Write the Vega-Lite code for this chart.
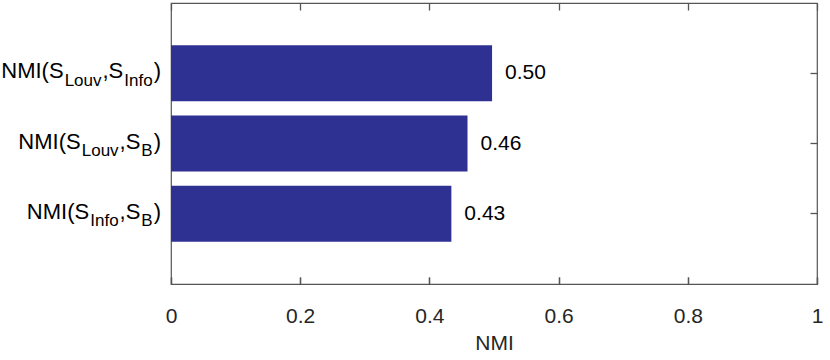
{
  "$schema": "https://vega.github.io/schema/vega-lite/v6.json",
  "width": 646,
  "height": 281,
  "autosize": {"type": "none"},
  "padding": {"left": 171, "top": 3, "right": 13, "bottom": 76},
  "background": "white",
  "config": {
    "font": "Liberation Sans",
    "view": {"stroke": "#555555", "strokeWidth": 1.2},
    "axis": {"labelColor": "#262626", "labelFont": "Liberation Sans", "titleFont": "Liberation Sans", "titleColor": "#262626", "titleFontWeight": "normal"}
  },
  "data": {
    "values": [
      {"pair": "Louv-Info", "value": 0.497, "pre": "NMI(S", "s1": "Louv", "mid": ",S", "s2": "Info", "post": ")"},
      {"pair": "Louv-B", "value": 0.459, "pre": "NMI(S", "s1": "Louv", "mid": ",S", "s2": "B", "post": ")"},
      {"pair": "Info-B", "value": 0.434, "pre": "NMI(S", "s1": "Info", "mid": ",S", "s2": "B", "post": ")"}
    ]
  },
  "layer": [
    {
      "mark": {"type": "bar", "color": "#2E3192"},
      "encoding": {
        "y": {"field": "pair", "type": "nominal", "sort": null, "title": null, "scale": {"paddingInner": 0.2, "paddingOuter": 0.6}, "axis": {"orient": "right", "labels": false, "domain": false, "grid": false, "ticks": true, "tickColor": "#555555", "tickWidth": 1.3, "tickSize": -7}},
        "x": {"field": "value", "type": "quantitative", "title": "NMI", "scale": {"domain": [0, 1], "nice": false}, "axis": {"orient": "bottom", "values": [0, 0.2, 0.4, 0.6, 0.8, 1], "format": "~g", "domain": false, "ticks": true, "tickColor": "#555555", "tickWidth": 1.3, "tickSize": 7, "offset": -7, "grid": true, "gridDash": [7, 267, 7, 0], "gridColor": "#555555", "gridWidth": 1.3, "gridOpacity": 1, "labelPadding": 21, "labelFontSize": 21, "titleFontSize": 21, "titlePadding": 6, "labelFlush": false}}
      }
    },
    {
      "mark": {"type": "text", "align": "left", "baseline": "middle", "dx": 13, "fontSize": 21, "color": "#000000"},
      "encoding": {
        "y": {"field": "pair", "type": "nominal", "sort": null, "title": null},
        "x": {"field": "value", "type": "quantitative", "title": "NMI"},
        "text": {"field": "value", "type": "quantitative", "format": ".2f"}
      }
    },
    {
      "mark": {"type": "text", "align": "right", "baseline": "alphabetic", "dx": -10, "dy": 5, "fontSize": 22, "color": "#000000"},
      "encoding": {"y": {"field": "pair", "type": "nominal", "sort": null, "title": null}, "x": {"datum": 0, "type": "quantitative", "title": "NMI"}, "text": {"field": "post"}}
    },
    {
      "mark": {"type": "text", "align": "right", "baseline": "alphabetic", "dx": -18.3, "dy": 12.5, "fontSize": 17, "color": "#000000"},
      "encoding": {"y": {"field": "pair", "type": "nominal", "sort": null, "title": null}, "x": {"datum": 0, "type": "quantitative", "title": "NMI"}, "text": {"field": "s2"}}
    },
    {
      "transform": [{"filter": "datum.pair === 'Louv-Info'"}],
      "mark": {"type": "text", "align": "right", "baseline": "alphabetic", "dx": -47.7, "dy": 5, "fontSize": 22, "color": "#000000"},
      "encoding": {"y": {"field": "pair", "type": "nominal", "sort": null, "title": null}, "x": {"datum": 0, "type": "quantitative", "title": "NMI"}, "text": {"field": "mid"}}
    },
    {
      "transform": [{"filter": "datum.pair !== 'Louv-Info'"}],
      "mark": {"type": "text", "align": "right", "baseline": "alphabetic", "dx": -30.6, "dy": 5, "fontSize": 22, "color": "#000000"},
      "encoding": {"y": {"field": "pair", "type": "nominal", "sort": null, "title": null}, "x": {"datum": 0, "type": "quantitative", "title": "NMI"}, "text": {"field": "mid"}}
    },
    {
      "transform": [{"filter": "datum.pair === 'Louv-Info'"}],
      "mark": {"type": "text", "align": "right", "baseline": "alphabetic", "dx": -69.5, "dy": 12.5, "fontSize": 17, "color": "#000000"},
      "encoding": {"y": {"field": "pair", "type": "nominal", "sort": null, "title": null}, "x": {"datum": 0, "type": "quantitative", "title": "NMI"}, "text": {"field": "s1"}}
    },
    {
      "transform": [{"filter": "datum.pair !== 'Louv-Info'"}],
      "mark": {"type": "text", "align": "right", "baseline": "alphabetic", "dx": -52.4, "dy": 12.5, "fontSize": 17, "color": "#000000"},
      "encoding": {"y": {"field": "pair", "type": "nominal", "sort": null, "title": null}, "x": {"datum": 0, "type": "quantitative", "title": "NMI"}, "text": {"field": "s1"}}
    },
    {
      "transform": [{"filter": "datum.pair === 'Louv-Info'"}],
      "mark": {"type": "text", "align": "right", "baseline": "alphabetic", "dx": -107.4, "dy": 5, "fontSize": 22, "color": "#000000"},
      "encoding": {"y": {"field": "pair", "type": "nominal", "sort": null, "title": null}, "x": {"datum": 0, "type": "quantitative", "title": "NMI"}, "text": {"field": "pre"}}
    },
    {
      "transform": [{"filter": "datum.pair === 'Louv-B'"}],
      "mark": {"type": "text", "align": "right", "baseline": "alphabetic", "dx": -90.3, "dy": 5, "fontSize": 22, "color": "#000000"},
      "encoding": {"y": {"field": "pair", "type": "nominal", "sort": null, "title": null}, "x": {"datum": 0, "type": "quantitative", "title": "NMI"}, "text": {"field": "pre"}}
    },
    {
      "transform": [{"filter": "datum.pair === 'Info-B'"}],
      "mark": {"type": "text", "align": "right", "baseline": "alphabetic", "dx": -81.8, "dy": 5, "fontSize": 22, "color": "#000000"},
      "encoding": {"y": {"field": "pair", "type": "nominal", "sort": null, "title": null}, "x": {"datum": 0, "type": "quantitative", "title": "NMI"}, "text": {"field": "pre"}}
    }
  ]
}
